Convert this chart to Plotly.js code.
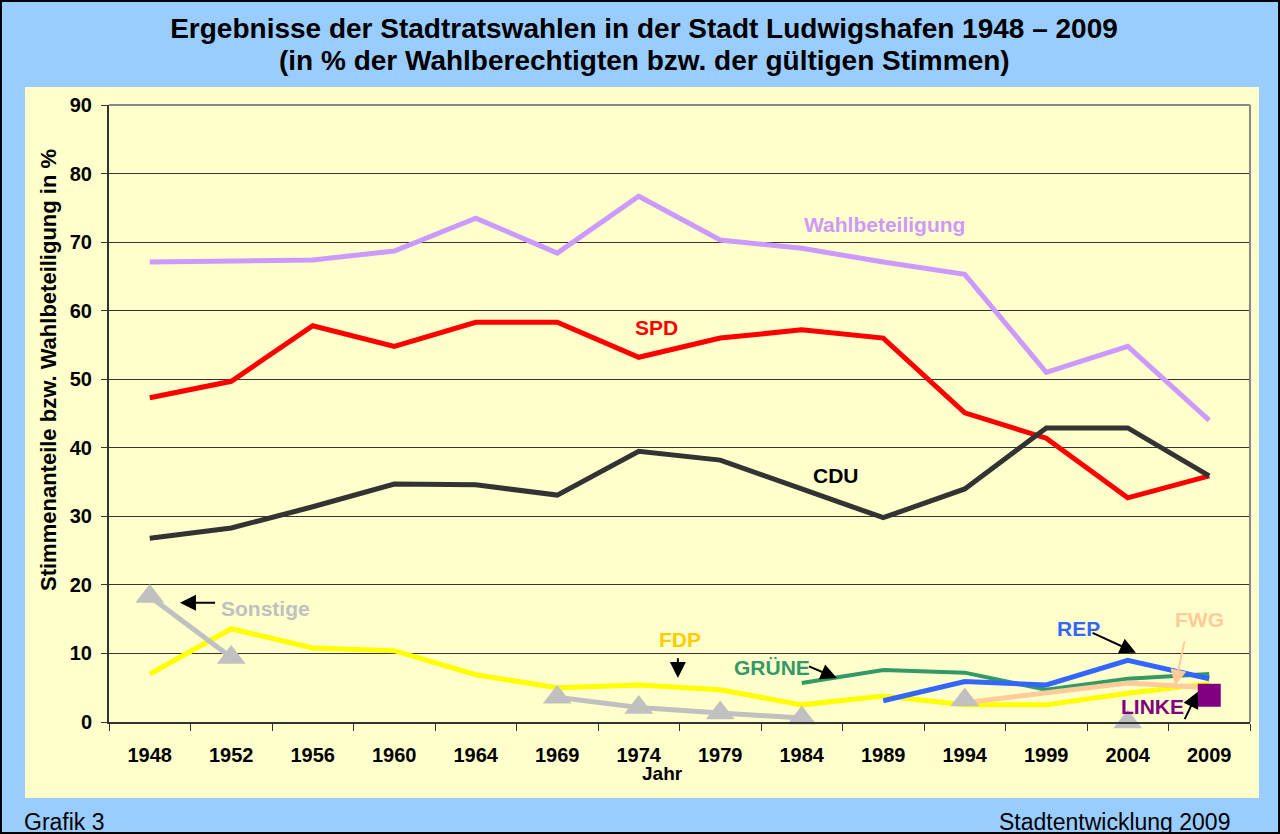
<!DOCTYPE html>
<html>
<head>
<meta charset="utf-8">
<script src="https://cdn.plot.ly/plotly-3.0.1.min.js"></script>
<style>
html,body{margin:0;padding:0;background:#99CCFF;}
#chart{width:1280px;height:834px;}
</style>
</head>
<body>
<div id="chart"></div>
<script>
// ---- data ----
const years = ["1948","1952","1956","1960","1964","1969","1974","1979","1984","1989","1994","1999","2004","2009"];
const wahlbeteiligung = [67.1, 67.2, 67.4, 68.7, 73.5, 68.4, 76.7, 70.3, 69.1, 67.1, 65.3, 51.0, 54.8, 44.0];
const spd = [47.3, 49.7, 57.8, 54.8, 58.3, 58.3, 53.2, 56.0, 57.2, 56.0, 45.1, 41.4, 32.7, 35.9];
const cdu = [26.8, 28.3, 31.4, 34.7, 34.6, 33.1, 39.5, 38.2, 34.0, 29.8, 34.0, 42.9, 42.9, 35.9];
const fdp = [7.0, 13.6, 10.8, 10.4, 6.9, 5.0, 5.4, 4.7, 2.5, 3.8, 2.5, 2.5, 4.2, 5.6];
const gruene = [null, null, null, null, null, null, null, null, 5.7, 7.6, 7.2, 4.7, 6.3, 7.0];
const rep = [null, null, null, null, null, null, null, null, null, 3.1, 5.9, 5.4, 9.0, 6.3];
const fwg = [null, null, null, null, null, null, null, null, null, null, 2.8, 4.3, 5.7, 5.0];
const linke = [null, null, null, null, null, null, null, null, null, null, null, null, null, 3.9];
const sonstige = [18.3, 9.4, null, null, null, 3.6, 2.1, 1.3, 0.6, null, 3.2, null, 0.0, null];

const titleLine1 = "Ergebnisse der Stadtratswahlen in der Stadt Ludwigshafen 1948 – 2009";
const titleLine2 = "(in % der Wahlberechtigten bzw. der gültigen Stimmen)";

const FONT = "Liberation Sans, Arial, sans-serif";

function line(name, y, color, width) {
  return {type:"scatter", mode:"lines", name:name, x:years, y:y,
    line:{color:color, width:width}, connectgaps:false, hoverinfo:"skip"};
}

const traces = [
  line("Wahlbeteiligung", wahlbeteiligung, "#CC99FF", 5),
  line("SPD", spd, "#FF0000", 5),
  line("CDU", cdu, "#333333", 5),
  line("FDP", fdp, "#FFFF00", 5),
  line("GRÜNE", gruene, "#339966", 4),
  line("FWG", fwg, "#FFCC99", 5),
  line("REP", rep, "#3366FF", 5),
  {type:"scatter", mode:"lines+markers", name:"Sonstige", x:years, y:sonstige,
   line:{color:"#C0C0C0", width:5}, marker:{symbol:"triangle-up", size:25, color:"#C0C0C0"},
   connectgaps:false, cliponaxis:false, hoverinfo:"skip"},
  {type:"scatter", mode:"markers", name:"LINKE", x:years, y:linke,
   marker:{symbol:"square", size:23, color:"#800080"}, cliponaxis:false, hoverinfo:"skip"}
];

// plot area in pixels: l=109 r=1250 t=105 b=722
const PL=109, PR=1250, PT=105, PB=722;
const px = v => (v-PL)/(PR-PL);
const py = v => (PB-v)/(PB-PT);

function label(text, x, y, color) {
  return {text:text, x:x, y:y, xref:"x", yref:"y", xanchor:"center", yanchor:"middle", showarrow:false,
    font:{family:FONT, size:21, color:color, weight:"bold"}};
}
function arrow(x0, y0, x1, y1, color) {
  return {text:"", x:x1, y:y1, ax:x0, ay:y0, xref:"x", yref:"y", axref:"x", ayref:"y",
    showarrow:true, arrowhead:2, arrowsize:1.6, arrowwidth:2, arrowcolor:color||"#000000"};
}
function paperText(text, x, y, size, bold, xanchor, angle, color) {
  return {text:text, x:px(x), y:py(y), xref:"paper", yref:"paper", xanchor:xanchor||"center",
    yanchor:"middle", textangle:angle||0, showarrow:false,
    font:{family:FONT, size:size, color:color||"#000", weight:bold?"bold":"normal"}};
}

const annotations = [
  label("Wahlbeteiligung", 9.02, 72.6, "#CC99FF"),
  label("SPD", 6.22, 57.6, "#FF0000"),
  label("CDU", 8.42, 36.0, "#000000"),
  label("Sonstige", 1.42, 16.6, "#C0C0C0"),
  label("FDP", 6.5, 12.0, "#FFCC00"),
  label("GRÜNE", 7.63, 8.0, "#339966"),
  label("REP", 11.39, 13.7, "#3366FF"),
  label("FWG", 12.88, 14.9, "#FFCC99"),
  paperText("LINKE", 1152, 706, 21, true, "center", 0, "#800080"),
  arrow(0.82, 17.4, 0.37, 17.4),
  arrow(6.48, 9.5, 6.48, 6.4),
  arrow(8.07, 8.2, 8.43, 6.4),
  arrow(11.55, 13.1, 12.1, 10.1),
  arrow(12.7, 12.0, 12.58, 5.3, "#FFCC99"),
  arrow(12.69, 0.2, 12.86, 4.4),
  paperText(titleLine2, 644, 60, 28, true),
  paperText("Stimmenanteile bzw. Wahlbeteiligung in %", 48, 370, 22, true, "center", -90),
  paperText("Jahr", 662, 773, 19, true),
  paperText("Grafik 3", 22, 822, 23, false, "left"),
  paperText("Stadtentwicklung 2009", 1232, 822, 23, false, "right")
];

const shapes = [
  {type:"rect", xref:"paper", yref:"paper", x0:px(25), x1:px(1259), y0:py(798), y1:py(87),
   fillcolor:"#FFFFCC", line:{width:0}, layer:"below"},
  {type:"line", xref:"paper", yref:"paper", x0:1, x1:1, y0:0, y1:1, line:{color:"#888888", width:2}, layer:"above"},
  {type:"line", xref:"paper", yref:"paper", x0:0, x1:1, y0:1, y1:1, line:{color:"#888888", width:2}, layer:"above"},
  {type:"rect", xref:"paper", yref:"paper", x0:px(1), x1:px(1279), y0:py(833), y1:py(1),
   line:{color:"#000000", width:2}, fillcolor:"rgba(0,0,0,0)", layer:"above"}
];

const layout = {
  width:1280, height:834,
  margin:{l:PL, r:1280-PR, t:PT, b:834-PB},
  paper_bgcolor:"#99CCFF", plot_bgcolor:"#FFFFCC",
  showlegend:false,
  font:{family:FONT, color:"#000"},
  title:{text:titleLine1, x:644/1280, xanchor:"center", y:1-28/834, yanchor:"middle",
    font:{family:FONT, size:28, color:"#000", weight:"bold"}},
  xaxis:{type:"category", range:[-0.5, 13.5], tickson:"boundaries", ticks:"outside", ticklen:7,
    tickcolor:"#333", tickwidth:1, showline:true, linecolor:"#333", linewidth:2, showgrid:false,
    ticklabelstandoff:14, tickfont:{family:FONT, size:20, color:"#000", weight:"bold"}},
  yaxis:{range:[0, 90], dtick:10, ticks:"outside", ticklen:6, tickcolor:"#333", tickwidth:1,
    showline:true, linecolor:"#333", linewidth:2, showgrid:true, gridcolor:"#333", gridwidth:1,
    zeroline:false, ticklabelstandoff:5, tickfont:{family:FONT, size:20, color:"#000", weight:"bold"}},
  shapes:shapes,
  annotations:annotations
};

Plotly.newPlot("chart", traces, layout, {displayModeBar:false, staticPlot:true});
</script>
</body>
</html>
